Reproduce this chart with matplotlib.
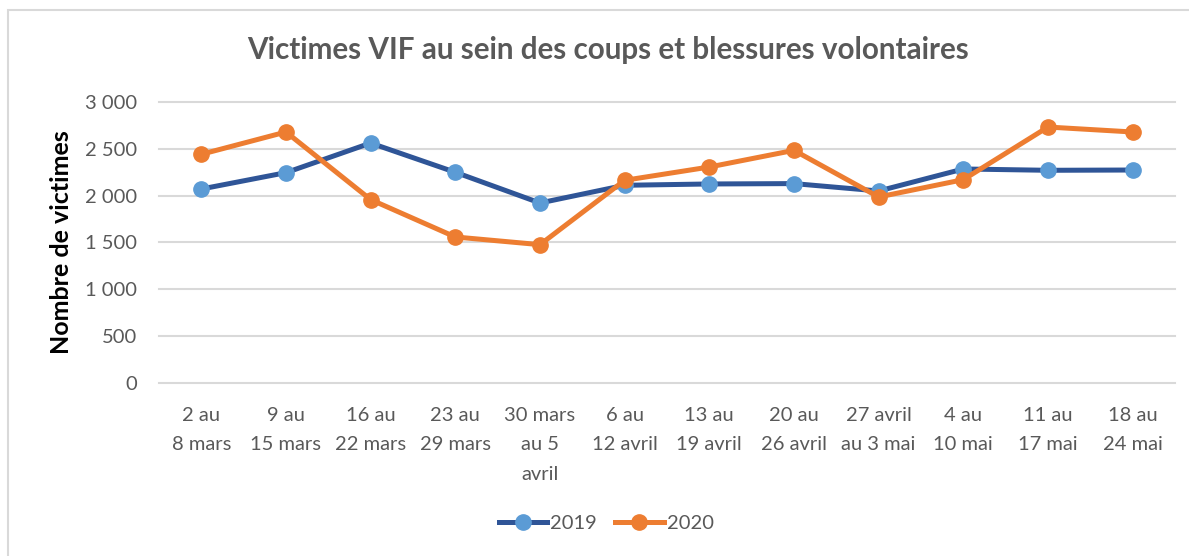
import numpy as np
import matplotlib.pyplot as plt
from matplotlib.patches import Rectangle
from matplotlib.ticker import FuncFormatter

# weekly periods, 2019 vs 2020
weeks = ['2 au\n8 mars', '9 au\n15 mars', '16 au\n22 mars', '23 au\n29 mars',
         '30 mars\nau 5\navril', '6 au\n12 avril', '13 au\n19 avril', '20 au\n26 avril',
         '27 avril\nau 3 mai', '4 au\n10 mai', '11 au\n17 mai', '18 au\n24 mai']
victims_2019 = [2071, 2246, 2562, 2250, 1922, 2111, 2125, 2129, 2050, 2285, 2271, 2274]
victims_2020 = [2442, 2680, 1958, 1559, 1477, 2164, 2306, 2484, 1986, 2171, 2733, 2680]
y_ticks = [0, 500, 1000, 1500, 2000, 2500, 3000]

grey = '#595959'
plt.rcParams['font.family'] = ['Lato', 'DejaVu Sans']

fig = plt.figure(figsize=(11.89, 5.56), dpi=100)
ax = fig.add_axes([0.1337, 0.3112, 0.8545, 0.5053])

# chart border (cut off at right/bottom like the screenshot)
fig.patches.append(Rectangle((8/1189, -0.05), 1.2, 1 - 10/556 + 0.05, transform=fig.transFigure,
                             fill=False, edgecolor='#D9D9D9', linewidth=1.5))

x = np.arange(len(weeks))
ax.plot(x, victims_2019, color='#2F5597', lw=3.6, marker='o', ms=11,
        mfc='#5B9BD5', mec='#5B9BD5', label='2019', zorder=3)
ax.plot(x, victims_2020, color='#ED7D31', lw=3.6, marker='o', ms=11,
        mfc='#ED7D31', mec='#ED7D31', label='2020', zorder=4)

ax.set_xlim(-0.5, len(weeks) - 0.5)
ax.set_ylim(0, 3000)
ax.set_yticks(y_ticks)
ax.yaxis.set_major_formatter(FuncFormatter(lambda v, p: f'{int(v):,}'.replace(',', ' ')))
ax.set_xticks(x)
ax.set_xticklabels(weeks, linespacing=1.9, va='top')
ax.tick_params(axis='both', length=0, labelsize=14.5, colors=grey)
ax.tick_params(axis='x', pad=17)
ax.tick_params(axis='y', pad=16)
for s in ax.spines.values():
    s.set_visible(False)
ax.grid(axis='y', color='#D9D9D9', lw=1.5)
for gl in ax.get_ygridlines():
    gl.set_clip_on(False)
ax.set_axisbelow(True)

ax.set_ylabel('Nombre de victimes', fontsize=18, fontweight='bold', color='black')
ax.yaxis.set_label_coords(-0.0846, 0.5)
fig.text(0.511, 1 - 50/556, 'Victimes VIF au sein des coups et blessures volontaires',
         ha='center', va='center', fontsize=21.3, fontweight='bold', color=grey)

fig.legend(loc='center', bbox_to_anchor=(0.51, 1 - 523/556), ncol=2, frameon=False,
           fontsize=14.5, handlelength=2.4, handletextpad=0.15, columnspacing=0.9,
           labelcolor=grey)

fig.savefig('out.png', dpi=100)
